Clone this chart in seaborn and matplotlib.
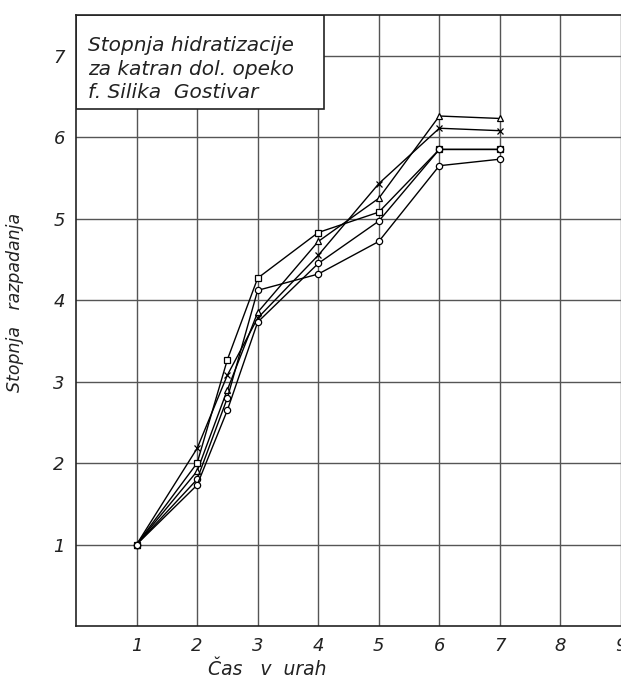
import matplotlib
matplotlib.use("Agg")
import matplotlib.pyplot as plt
import seaborn as sns
import pandas as pd
from matplotlib.patches import Rectangle

hours = [1, 2, 2.5, 3, 4, 5, 6, 7]
series_a = [1, 1.90, 2.90, 3.85, 4.72, 5.25, 6.26, 6.23]
series_b = [1, 2.18, 3.08, 3.78, 4.55, 5.43, 6.11, 6.08]
series_c = [1, 2.00, 3.27, 4.27, 4.83, 5.08, 5.85, 5.85]
series_d = [1, 1.80, 2.80, 4.12, 4.32, 4.72, 5.65, 5.73]
series_e = [1, 1.73, 2.65, 3.73, 4.45, 4.97, 5.85, 5.85]
series_names = ["A", "B", "C", "D", "E"]
series_markers = ["^", "x", "s", "o", "o"]
x_ticks = [1, 2, 3, 4, 5, 6, 7, 8, 9]
y_ticks = [1, 2, 3, 4, 5, 6, 7]
title_lines = ["Stopnja hidratizacije", "za katran dol. opeko", "f. Silika  Gostivar"]
x_label = "Čas   v  urah"
y_label = "Stopnja   razpadanja"

all_series = [series_a, series_b, series_c, series_d, series_e]

sns.set_theme(style="white")
plt.rcParams["font.family"] = ["DejaVu Sans"]

fig = plt.figure(figsize=(6.21, 6.86), dpi=100)
ax = fig.add_axes([76 / 621, 60 / 686, 545 / 621, 611 / 686])

for name, vals, mk in zip(series_names, all_series, series_markers):
    d = pd.DataFrame({"h": hours, "v": vals})
    sns.lineplot(data=d, x="h", y="v", ax=ax, color="black", linewidth=1.0,
                 marker=mk, markersize=4.5, markerfacecolor="white",
                 markeredgecolor="black", markeredgewidth=0.9, zorder=3,
                 legend=False)

ax.set_xlim(0, 545 / 61.2)
ax.set_ylim(0, 7.5)
ax.set_xticks(x_ticks)
ax.set_yticks(y_ticks)
ax.grid(True, color="#555555", linewidth=1.0)
ax.set_axisbelow(True)
for side in ["left", "bottom", "top"]:
    ax.spines[side].set_color("#222222")
    ax.spines[side].set_linewidth(1.2)
ax.spines["right"].set_visible(False)
ax.tick_params(length=0, labelsize=13, pad=8)
for lbl in ax.get_xticklabels() + ax.get_yticklabels():
    lbl.set_fontstyle("italic")
    lbl.set_color("#222222")

ax.set_xlabel(x_label, fontsize=13.5, fontstyle="italic", color="#222222")
ax.set_ylabel(y_label, fontsize=12.5, fontstyle="italic", color="#222222")
ax.xaxis.set_label_coords(0.35, -0.055)
ax.yaxis.set_label_coords(-0.095, 0.53)

box = Rectangle((0, 6.35), 4.1, 1.15, facecolor="white", edgecolor="#222222",
                linewidth=1.2, zorder=2.5)
ax.add_patch(box)
for i, line in enumerate(title_lines):
    ax.text(0.2, 7.12 - i * 0.283, line, fontsize=14.5, fontstyle="italic",
            color="#222222", va="center", ha="left", zorder=4)

fig.savefig("out.png", dpi=100)
